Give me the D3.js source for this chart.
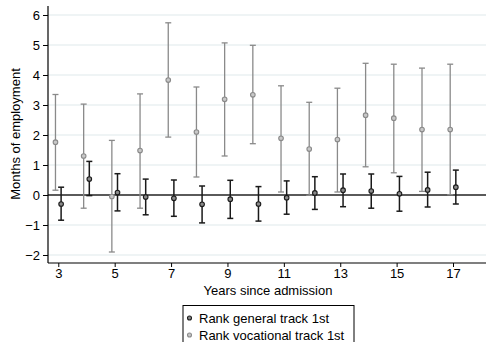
<!DOCTYPE html>
<html><head><meta charset="utf-8">
<script src="https://cdn.jsdelivr.net/npm/d3@7"></script>
<style>body{margin:0;background:#fff}svg{display:block;font-family:"Liberation Sans",Arial,sans-serif}</style>
</head><body><svg id="c" width="486" height="342"></svg>
<script>
const years = [3,4,5,6,7,8,9,10,11,12,13,14,15,16,17];
const genEst = [-0.30,0.53,0.08,-0.07,-0.11,-0.31,-0.14,-0.30,-0.09,0.07,0.16,0.13,0.04,0.17,0.26];
const genLo  = [-0.84,-0.02,-0.53,-0.66,-0.71,-0.93,-0.78,-0.87,-0.64,-0.48,-0.39,-0.44,-0.54,-0.40,-0.30];
const genHi  = [0.26,1.12,0.71,0.53,0.50,0.30,0.49,0.28,0.47,0.61,0.70,0.70,0.62,0.76,0.83];
const vocEst = [1.76,1.30,-0.05,1.48,3.83,2.10,3.19,3.34,1.89,1.53,1.85,2.66,2.56,2.18,2.18];
const vocLo  = [0.16,-0.44,-1.90,-0.44,1.93,0.60,1.30,1.71,0.10,-0.01,0.10,0.94,0.74,0.12,0.01];
const vocHi  = [3.35,3.03,1.82,3.37,5.74,3.60,5.07,4.99,3.64,3.09,3.56,4.39,4.36,4.23,4.36];
const xTicks = [3,5,7,9,11,13,15,17];
const yTicks = [-2,-1,0,1,2,3,4,5,6];
const legendLabels = ["Rank general track 1st","Rank vocational track 1st"];

const svg = d3.select("#c");
const x = d3.scaleLinear().domain([2.635,18.17]).range([48,486]);
const y = d3.scaleLinear().domain([-2,6]).range([255,15]);
const yBottom = 263, yTop = 6;

// gridlines
svg.append("g").selectAll("line").data(yTicks.filter(d=>d!==0)).join("line")
  .attr("x1",48).attr("x2",486).attr("y1",d=>y(d)).attr("y2",d=>y(d))
  .attr("stroke","#eaf1f2").attr("stroke-width",1.5);
// zero line
svg.append("line").attr("x1",48).attr("x2",486).attr("y1",y(0)).attr("y2",y(0))
  .attr("stroke","#5a5a5a").attr("stroke-width",2);

function series(est, lo, hi, off, col, sw, fill){
  const data = years.map((t,i)=>({t, e:est[i], l:lo[i], h:hi[i]}));
  const g = svg.append("g");
  const cx = d=>x(d.t+off);
  g.selectAll("line.v").data(data).join("line").attr("class","v")
    .attr("x1",cx).attr("x2",cx).attr("y1",d=>y(d.l)).attr("y2",d=>y(d.h))
    .attr("stroke",col).attr("stroke-width",sw);
  ["l","h"].forEach(k=>{
    g.selectAll("line.c"+k).data(data).join("line").attr("class","c"+k)
      .attr("x1",d=>cx(d)-3).attr("x2",d=>cx(d)+3).attr("y1",d=>y(d[k])).attr("y2",d=>y(d[k]))
      .attr("stroke",col).attr("stroke-width",sw);
  });
  g.selectAll("circle").data(data).join("circle")
    .attr("cx",cx).attr("cy",d=>y(d.e)).attr("r",2.3)
    .attr("fill",fill).attr("stroke",col).attr("stroke-width",1.1);
}
series(vocEst,vocLo,vocHi,-0.1,"#8a8a8a",1.3,"#c8c8c8");
series(genEst,genLo,genHi,0.1,"#1a1a1a",1.5,"#8a8a8a");

// axes
const yAxis = d3.axisLeft(y).tickValues(yTicks).tickSize(5).tickPadding(3).tickFormat(d3.format("d"));
const ya = svg.append("g").attr("transform","translate(48,0)").call(yAxis);
ya.select(".domain").remove();
ya.append("line").attr("x1",0).attr("x2",0).attr("y1",yTop).attr("y2",yBottom).attr("stroke","#000").attr("stroke-width",1.2);
ya.selectAll("text").attr("font-size",13).attr("fill","#000").attr("font-family","Liberation Sans, Arial, sans-serif");

const xAxis = d3.axisBottom(x).tickValues(xTicks).tickSize(4).tickPadding(2).tickFormat(d3.format("d"));
const xa = svg.append("g").attr("transform",`translate(0,${yBottom})`).call(xAxis);
xa.select(".domain").remove();
xa.append("line").attr("x1",48).attr("x2",486).attr("y1",0).attr("y2",0).attr("stroke","#000").attr("stroke-width",1.2);
xa.selectAll("text").attr("font-size",13).attr("fill","#000").attr("font-family","Liberation Sans, Arial, sans-serif");

svg.append("text").attr("x",268).attr("y",295).attr("text-anchor","middle").attr("font-size",13).text("Years since admission");
svg.append("text").attr("transform","translate(20,134) rotate(-90)").attr("text-anchor","middle").attr("font-size",13).text("Months of employment");

// legend
const lg = svg.append("g");
lg.append("rect").attr("x",183).attr("y",305.5).attr("width",171).attr("height",50).attr("fill","#fff").attr("stroke","#000").attr("stroke-width",1);
const lcol = [["#1a1a1a","#8a8a8a"],["#8a8a8a","#c8c8c8"]];
legendLabels.forEach((t,i)=>{
  const cy = 318 + i*17;
  lg.append("circle").attr("cx",189.5).attr("cy",cy).attr("r",2).attr("fill",lcol[i][1]).attr("stroke",lcol[i][0]).attr("stroke-width",1.1);
  lg.append("text").attr("x",199).attr("y",cy+4.5).attr("font-size",13).text(t);
});
</script></body></html>
